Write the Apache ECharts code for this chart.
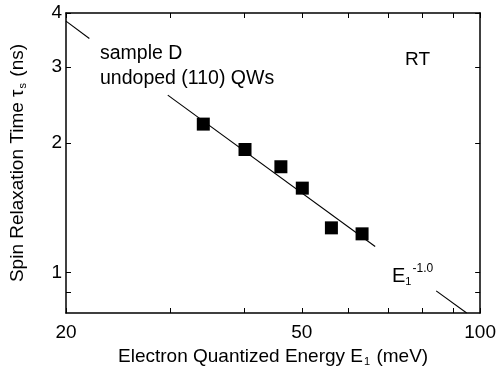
<!DOCTYPE html>
<html>
<head>
<meta charset="utf-8">
<script src="https://cdn.jsdelivr.net/npm/echarts@6/dist/echarts.min.js"></script>
<style>
  html, body { margin: 0; padding: 0; background: #fff; }
  #chart { width: 499px; height: 372px; }
</style>
</head>
<body>
<div id="chart"></div>
<script>
// measured points: electron quantized energy (meV) vs spin relaxation time (ns)
const energies = [34.1, 40.1, 46.1, 50.1, 56.1, 63.2];
const spinTimes = [2.21, 1.93, 1.76, 1.57, 1.27, 1.23];

// E1^-1.0 guide line, drawn in three pieces (broken around the labels)
const fitSegments = [
  [[20, 3.83], [21.9, 3.49]],
  [[29.7, 2.58], [66.5, 1.15]],
  [[84.3, 0.907], [94.9, 0.806]]
];

const xTicks = [20, 30, 40, 50, 60, 70, 80, 90, 100];
const xTickLabels = [20, 50, 100];
const yTicks = [0.9, 1, 2, 3, 4];
const yTickLabels = [1, 2, 3, 4];

const FONT = "'Liberation Sans', Arial, Helvetica, sans-serif";
const black = "#000";

const chart = echarts.init(document.getElementById("chart"));

const axisLine = { show: true, onZero: false, lineStyle: { color: black, width: 1.5 } };
const tickStyle = { color: black, width: 1 };

const baseX = {
  type: "log",
  logBase: 10,
  min: 20,
  max: 100,
  axisLine: axisLine,
  splitLine: { show: false },
  minorTick: { show: false },
  axisTick: { show: true, inside: true, length: 5, customValues: xTicks, lineStyle: tickStyle },
};
const baseY = {
  type: "log",
  logBase: 10,
  min: 0.806,
  max: 4,
  axisLine: axisLine,
  splitLine: { show: false },
  minorTick: { show: false },
  axisTick: { show: true, inside: true, length: 5, customValues: yTicks, lineStyle: tickStyle },
};

const option = {
  animation: false,
  backgroundColor: "#fff",
  grid: { left: 66, right: 17, top: 13, bottom: 54 },
  xAxis: [
    {
      ...baseX,
      position: "bottom",
      axisLabel: {
        customValues: xTickLabels,
        margin: 10,
        color: black,
        fontSize: 19,
        fontFamily: FONT,
      },
      name: "{a|Electron Quantized Energy E}{b|1}{a| (meV)}",
      nameLocation: "middle",
      nameGap: 33,
      nameTextStyle: {
        color: black,
        fontFamily: FONT,
        rich: {
          a: { fontSize: 19, fontFamily: FONT, color: black },
          b: { fontSize: 11, fontFamily: FONT, color: black, padding: [10, 1, 0, 1] },
        },
      },
    },
    { ...baseX, position: "top", axisLabel: { show: false } },
  ],
  yAxis: [
    {
      ...baseY,
      position: "left",
      axisLabel: {
        customValues: yTickLabels,
        margin: 4,
        color: black,
        fontSize: 19,
        fontFamily: FONT,
      },
      name: "{a|Spin Relaxation Time τ}{b|s}{a| (ns)}",
      nameLocation: "middle",
      nameGap: 38,
      nameTextStyle: {
        color: black,
        fontFamily: FONT,
        rich: {
          a: { fontSize: 19, fontFamily: FONT, color: black },
          b: { fontSize: 11, fontFamily: FONT, color: black, padding: [10, 1, 0, 1] },
        },
      },
    },
    { ...baseY, position: "right", axisLabel: { show: false } },
  ],
  series: [
    ...fitSegments.map((seg) => ({
      type: "line",
      xAxisIndex: 0,
      yAxisIndex: 0,
      data: seg,
      symbol: "none",
      lineStyle: { color: black, width: 1.1 },
      silent: true,
    })),
    {
      type: "scatter",
      xAxisIndex: 0,
      yAxisIndex: 0,
      data: energies.map((e, i) => [e, spinTimes[i]]),
      symbol: "rect",
      symbolSize: 13,
      itemStyle: { color: black, opacity: 1 },
    },
  ],
  graphic: [
    {
      type: "text",
      x: 100,
      y: 54,
      style: { text: "sample D", fontSize: 19.5, fontFamily: FONT, fill: black, verticalAlign: "middle" },
    },
    {
      type: "text",
      x: 100,
      y: 79,
      style: { text: "undoped (110) QWs", fontSize: 19.5, fontFamily: FONT, fill: black, verticalAlign: "middle" },
    },
    {
      type: "text",
      x: 405,
      y: 60,
      style: { text: "RT", fontSize: 19, fontFamily: FONT, fill: black, verticalAlign: "middle" },
    },
    {
      type: "text",
      x: 392,
      y: 276,
      style: {
        text: "{e|E}{s|1}{p|-1.0}",
        verticalAlign: "middle",
        rich: {
          e: { fontSize: 20, fontFamily: FONT, fill: black },
          s: { fontSize: 11, fontFamily: FONT, fill: black, padding: [12, 0, 0, 0] },
          p: { fontSize: 12, fontFamily: FONT, fill: black, padding: [0, 0, 14, 1] },
        },
      },
    },
  ],
};

chart.setOption(option);
</script>
</body>
</html>
